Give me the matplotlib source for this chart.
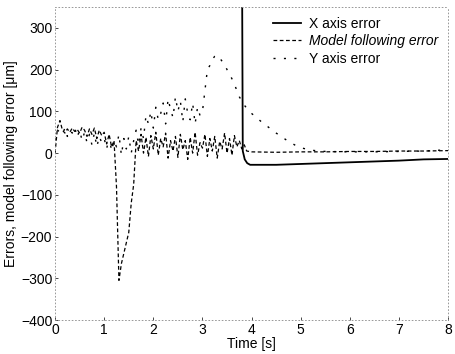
import numpy as np
import matplotlib
matplotlib.use("Agg")
import matplotlib.pyplot as plt

plt.rcParams["font.family"] = ["Liberation Sans", "DejaVu Sans"]

# time base for the noisy part (0 .. 3.85 s, 0.05 s steps)
t_early = [round(0.05 * i, 2) for i in range(78)]

model_early = [
    0, 62, 78, 55, 48, 58, 50, 60, 52, 57,
    48, 62, 55, 40, 58, 45, 60, 35, 55, 42,
    50, 22, 45, 15, 30, -80, -305, -265, -240, -215,
    -190, -120, -75, 30, 5, 45, 0, 38, -8, 42,
    10, 50, -5, 35, 15, 48, -12, 30, 5, 40,
    -10, 45, 8, 30, -15, 38, 0, 50, -5, 25,
    12, 45, -8, 35, 5, 40, -12, 28, 10, 48,
    0, 35, -5, 42, 15, 30, 10, 20,
]
t_model_late = [3.90, 4.0, 4.5, 5.0, 5.5, 6.0, 6.5, 7.0, 7.5, 8.0]
model_late = [5, 3, 2, 3, 3, 4, 4, 5, 5, 6]

y_early = [
    30, 55, 50, 45, 60, 40, 55, 48, 62, 38,
    55, 30, 50, 25, 45, 20, 48, 15, 40, 25,
    35, 10, 40, 5, 30, 15, 45, -5, 35, 10,
    40, 0, 30, 55, 20, 60, 35, 90, 70, 100,
    60, 110, 80, 95, 120, 70, 130, 105, 85, 135,
    100, 125, 75, 130, 95, 80, 120, 70, 110, 90,
    100, 150, 200, 210, 225, 232, 235, 228, 220, 212,
    200, 190, 178, 165, 150, 135, 125, 115,
]
t_y_late = [3.90, 4.0, 4.1, 4.2, 4.3, 4.4, 4.5, 4.6, 4.7, 4.8, 4.9, 5.0,
            5.2, 5.5, 6.0, 6.5, 7.0, 7.5, 8.0]
y_late = [108, 95, 85, 75, 66, 57, 48, 40, 32, 25, 18, 13,
          7, 4, 3, 3, 4, 5, 8]

t_x = [0, 3.80, 3.82, 3.86, 3.91, 3.97, 4.5, 5.0, 5.5, 6.0, 6.5, 7.0, 7.5, 8.0]
x_err = [600, 600, 5, -15, -24, -28, -28, -26, -24, -22, -20, -18, -15, -14]

t_model = t_early + t_model_late
model_err = model_early + model_late
t_y = t_early + t_y_late
y_err = y_early + y_late

fig = plt.figure(figsize=(4.55, 3.54), dpi=100)
ax = fig.add_axes([0.121, 0.096, 0.864, 0.884])

ax.plot(t_x, x_err, color="black", linewidth=1.3, label="X axis error")
ax.plot(t_model, model_err, color="black", linewidth=0.9, linestyle=(0, (3, 2)),
        label="Model following error")
ax.plot(t_y, y_err, color="black", linewidth=1.0, linestyle=(0, (1.5, 6)),
        label="Y axis error")

ax.set_xlim(0, 8)
ax.set_ylim(-400, 350)
ax.set_xticks(range(0, 9))
ax.set_yticks(range(-400, 301, 100))
ax.tick_params(direction="in", length=2, width=0.5, labelsize=10, pad=2)
for s in ax.spines.values():
    s.set_color("#888888")
    s.set_linewidth(0.6)
    s.set_linestyle((0, (1, 3)))

ax.set_xlabel("Time [s]", fontsize=10, labelpad=0)
ax.set_ylabel("Errors, model following error [μm]", fontsize=10, labelpad=2)

leg = ax.legend(loc="upper right", bbox_to_anchor=(1.0, 1.0), frameon=False,
                fontsize=10, handlelength=2.0, handletextpad=0.6,
                labelspacing=0.25, borderaxespad=0.3)
leg.get_texts()[1].set_style("italic")

fig.savefig("out.png", dpi=100)
